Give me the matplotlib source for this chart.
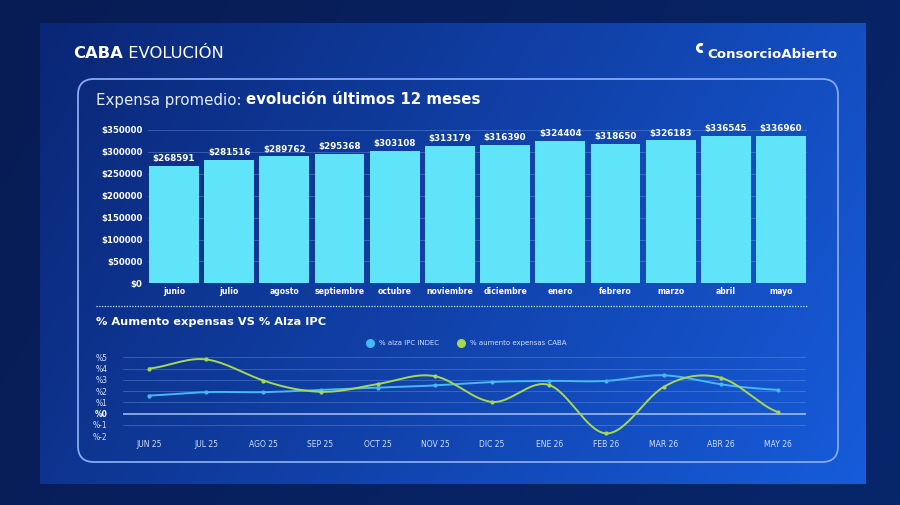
import numpy as np
import matplotlib
matplotlib.use("Agg")
import matplotlib.pyplot as plt
from matplotlib.patches import FancyBboxPatch, Arc
from matplotlib.lines import Line2D

# Datos del gráfico de barras
meses = ["junio", "julio", "agosto", "septiembre", "octubre", "noviembre",
         "diciembre", "enero", "febrero", "marzo", "abril", "mayo"]
expensa = [268591, 281516, 289762, 295368, 303108, 313179,
           316390, 324404, 318650, 326183, 336545, 336960]
ticks_barras = [0, 50000, 100000, 150000, 200000, 250000, 300000, 350000]

# Datos del gráfico de líneas
meses_cortos = ["JUN 25", "JUL 25", "AGO 25", "SEP 25", "OCT 25", "NOV 25",
                "DIC 25", "ENE 26", "FEB 26", "MAR 26", "ABR 26", "MAY 26"]
ipc = [1.6, 1.9, 1.9, 2.1, 2.3, 2.5, 2.8, 2.9, 2.9, 3.4, 2.6, 2.1]
aumento = [4.0, 4.81, 2.93, 1.93, 2.62, 3.32, 1.03, 2.53, -1.77, 2.36, 3.18, 0.12]
ticks_lineas = [-2, -1, 0, 1, 2, 3, 4, 5]
series = ["% alza IPC INDEC", "% aumento expensas CABA"]

W, H = 900, 505
C_BAR = "#5fe4fa"
C_IPC = "#45b8f5"
C_AUM = "#a6d852"
C_TXT = "#d3def9"


# Curva suavizada tipo spline (bezier con tension) para las lineas
def suavizar(y, n=30, t=0.4):
    y = np.asarray(y, float)
    x = np.arange(len(y), dtype=float)
    xs, ys = [], []
    for i in range(len(y) - 1):
        y0 = y[i - 1] if i > 0 else y[i]
        y3 = y[i + 2] if i + 2 < len(y) else y[i + 1]
        c1 = y[i] + t / 2 * (y[i + 1] - y0)
        c2 = y[i + 1] - t / 2 * (y3 - y[i])
        s = np.linspace(0, 1, n)
        xs.append(x[i] + s)
        ys.append((1 - s) ** 3 * y[i] + 3 * (1 - s) ** 2 * s * c1
                  + 3 * (1 - s) * s ** 2 * c2 + s ** 3 * y[i + 1])
    return np.concatenate(xs), np.concatenate(ys)


def rect(px_left, px_top, px_right, px_bottom):
    return [px_left / W, 1 - px_bottom / H, (px_right - px_left) / W,
            (px_bottom - px_top) / H]


fig = plt.figure(figsize=(9, 5.05), dpi=100)

# Fondo: marco oscuro + diapositiva con degradado
bg = fig.add_axes([0, 0, 1, 1], zorder=0)
bg.axis("off")

gx = np.linspace(0, 1, 300)[None, :]
gy = np.linspace(0, 1, 170)[:, None]
mix = np.clip(0.75 * gx + 0.25 * gy, 0, 1)[..., None]
outer_a = np.array([0.03, 0.11, 0.33])
outer_b = np.array([0.03, 0.15, 0.42])
bg.imshow(outer_a * (1 - mix) + outer_b * mix, extent=(0, W, H, 0), aspect="auto")
slide_a = np.array([0.04, 0.15, 0.46])
slide_b = np.array([0.09, 0.36, 0.86])
bg.imshow(slide_a * (1 - mix) + slide_b * mix, extent=(40, 866, 484, 23), aspect="auto")
bg.set_xlim(0, W)
bg.set_ylim(H, 0)

# Panel con borde redondeado
bg.add_patch(FancyBboxPatch((78, 79), 760, 383, boxstyle="round,pad=0,rounding_size=16",
                            facecolor="none", edgecolor="#86aaf2", lw=1.3))

# Títulos
t1 = bg.text(73, 53, "CABA", color="white", fontsize=11.8, fontweight="bold",
             va="center", ha="left")
bg.annotate(" EVOLUCIÓN", xy=(1, 0), xycoords=t1, va="bottom", ha="left",
            color="white", fontsize=11.8)

bg.add_patch(Arc((701, 48), 7, 7, theta1=60, theta2=300, color="white", lw=2.2))
bg.text(838, 54, "ConsorcioAbierto", color="white", fontsize=9.6, fontweight="bold",
        va="center", ha="right")

t2 = bg.text(96, 100, "Expensa promedio: ", color="#e6edff", fontsize=10.8,
             va="center", ha="left")
bg.annotate("evolución últimos 12 meses", xy=(1, 0), xycoords=t2, va="bottom",
            ha="left", color="white", fontsize=10.8, fontweight="bold")

bg.plot([96, 807], [306, 306], color="white", lw=0.9, ls=(0, (1, 1.2)), alpha=0.85)
bg.text(96, 322, "% Aumento expensas VS % Alza IPC", color="white", fontsize=8.2,
        fontweight="bold", va="center", ha="left")

# Gráfico de barras
ax1 = fig.add_axes(rect(148, 130, 807, 283.3), zorder=2)
ax1.set_facecolor("none")
x = np.arange(len(meses))
ax1.bar(x, expensa, width=0.905, color=C_BAR, zorder=2)
for xi, v in zip(x, expensa):
    ax1.annotate(f"${v}", (xi, v), xytext=(0, 2), textcoords="offset points",
                 ha="center", va="bottom", color="white", fontsize=6.3, fontweight="bold")
ax1.set_xlim(-0.47, 11.47)
ax1.set_ylim(0, 350000)
ax1.set_yticks(ticks_barras)
ax1.set_yticklabels([f"${t}" for t in ticks_barras])
ax1.set_xticks(x)
ax1.set_xticklabels(meses)
ax1.tick_params(length=0, colors="white", labelsize=6.2, pad=4)
ax1.tick_params(axis="x", labelsize=5.6, pad=3)
for lab in ax1.get_xticklabels() + ax1.get_yticklabels():
    lab.set_fontweight("bold")
ax1.grid(axis="y", color="#7a9be0", lw=0.6, alpha=0.45, zorder=0)
for s in ax1.spines.values():
    s.set_visible(False)

# Gráfico de líneas
ax2 = fig.add_axes(rect(123, 357.3, 806, 436), zorder=2)
ax2.set_facecolor("none")
xs, ys = suavizar(ipc)
ax2.plot(xs, ys, color=C_IPC, lw=1.4, zorder=3)
ax2.plot(x, ipc, "o", color=C_IPC, ms=2, zorder=4)
xs, ys = suavizar(aumento)
ax2.plot(xs, ys, color=C_AUM, lw=1.4, zorder=3)
ax2.plot(x, aumento, "o", color=C_AUM, ms=2, zorder=4)
ax2.set_xlim(-0.455, 11.49)
ax2.set_ylim(-2, 5)
ax2.set_yticks(ticks_lineas)
ax2.set_yticklabels([f"%{t}" for t in ticks_lineas])
ax2.set_xticks(x)
ax2.set_xticklabels(meses_cortos)
ax2.tick_params(length=0, colors=C_TXT, labelsize=5.5)
ax2.tick_params(axis="y", pad=11)
ax2.tick_params(axis="x", pad=3)
for lab in ax2.get_yticklabels():
    if lab.get_text() == "%0":
        lab.set_color("white")
        lab.set_fontweight("bold")
for t in ticks_lineas:
    if t == 0:
        ax2.axhline(t, color="#b8d0ff", lw=1.1, alpha=0.9, zorder=1)
    else:
        ax2.axhline(t, color="#7a9be0", lw=0.6, alpha=0.45, zorder=1)
for s in ax2.spines.values():
    s.set_visible(False)

handles = [Line2D([], [], ls="", marker="o", ms=5.5, color=c) for c in (C_IPC, C_AUM)]
ax2.legend(handles, series, ncol=2, loc="center", bbox_to_anchor=(0.5, 1.18),
           frameon=False, fontsize=5, labelcolor=C_TXT, handletextpad=0.3,
           columnspacing=2.2, borderpad=0)

fig.savefig("out.png", dpi=100)
